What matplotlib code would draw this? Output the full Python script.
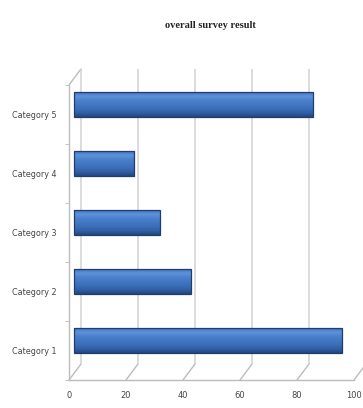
import matplotlib
matplotlib.use("Agg")
import matplotlib.pyplot as plt
import numpy as np
from matplotlib import transforms
from matplotlib.colors import LinearSegmentedColormap
from matplotlib.patches import ConnectionPatch

categories = ["Category 1", "Category 2", "Category 3", "Category 4", "Category 5"]
values = [94, 41, 30, 21, 84]
x_ticks = [0, 20, 40, 60, 80, 100]

W, H = 363, 408
fig = plt.figure(figsize=(W / 100, H / 100), dpi=100)
ax = fig.add_axes([69 / W, 28 / H, 285 / W, 295 / H])
ax.set_facecolor("none")

wall_col = "#d2d2d2"
edge_col = "#bcbcbc"

# depth offsets for the 3d look: back wall and bar plane
back = transforms.offset_copy(ax.transData, fig=fig, x=12, y=16, units="dots")
mid = transforms.offset_copy(ax.transData, fig=fig, x=5, y=10, units="dots")

# back wall gridlines
ax.vlines(x_ticks[:-1], -0.5, 4.5, transform=back, colors=wall_col, lw=1.1,
          clip_on=False, zorder=0)

# side wall / floor diagonals
for xt in x_ticks:
    con = ConnectionPatch(xyA=(xt, -0.5), coordsA=ax.transData,
                          xyB=(xt, -0.5), coordsB=back,
                          color=edge_col, lw=1.0, zorder=0)
    fig.add_artist(con)
con = ConnectionPatch(xyA=(0, 4.5), coordsA=ax.transData,
                      xyB=(0, 4.5), coordsB=back,
                      color=edge_col, lw=1.0, zorder=0)
fig.add_artist(con)

# bars with a cylinder-like shading
bar_h = 0.41
shade = LinearSegmentedColormap.from_list(
    "cyl", ["#24467e", "#3060a6", "#3b6eb9", "#4277c3", "#4a80cc", "#5e93da", "#4274bf"])
grad = np.linspace(0, 1, 64).reshape(-1, 1)
bars = ax.barh(range(len(values)), values, height=bar_h, transform=mid,
               facecolor="#3b6eb9", edgecolor="none", zorder=2)
for i, (b, v) in enumerate(zip(bars, values)):
    im = ax.imshow(grad, cmap=shade, origin="lower", aspect="auto",
                   extent=[0, v, i - bar_h / 2, i + bar_h / 2],
                   transform=mid, zorder=3, interpolation="bilinear")
    im.set_clip_path(b)
ax.barh(range(len(values)), values, height=bar_h, transform=mid,
        facecolor="none", edgecolor="#223d6a", lw=0.9, zorder=4)

ax.set_xlim(0, 100)
ax.set_ylim(-0.5, 4.5)

for s in ["top", "right"]:
    ax.spines[s].set_visible(False)
for s in ["left", "bottom"]:
    ax.spines[s].set_color(edge_col)
    ax.spines[s].set_linewidth(1.0)

ax.set_xticks(x_ticks, [str(t) for t in x_ticks])
ax.set_yticks(range(len(categories)), categories)
ax.set_yticks(np.arange(-0.5, 5, 1), minor=True)
ax.tick_params(axis="x", length=0, pad=8, labelsize=6, labelcolor="#444444")
ax.tick_params(axis="y", which="major", length=0, pad=9, labelsize=5.8,
               labelcolor="#444444")
ax.tick_params(axis="y", which="minor", length=3, color=edge_col)
for lab in ax.get_xticklabels() + ax.get_yticklabels():
    lab.set_family("Liberation Sans Narrow")

fig.text(210 / W, 1 - 25 / H, "overall survey result", ha="center", va="center",
         family="Liberation Serif", fontsize=7.5, weight="bold", color="#222222")

fig.savefig("out.png", dpi=100)
